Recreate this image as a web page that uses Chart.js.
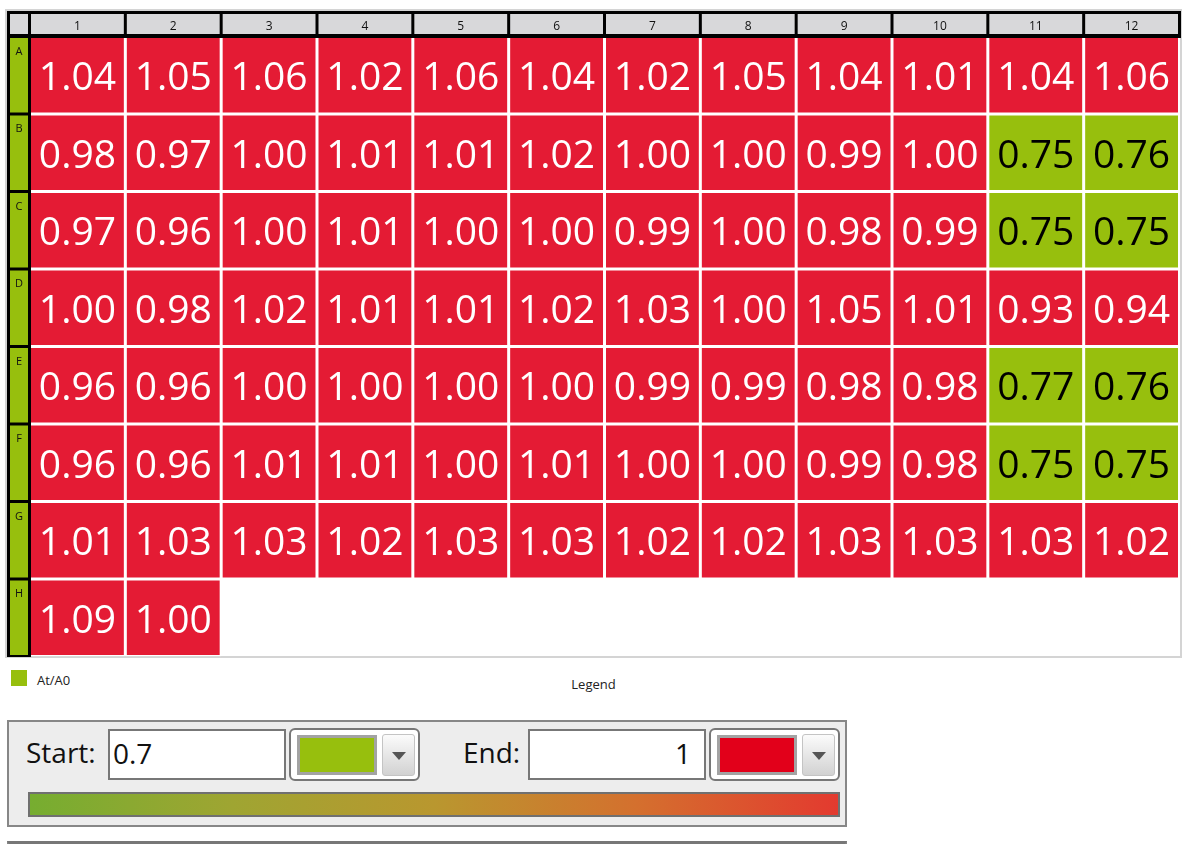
<!DOCTYPE html>
<html>
<head>
<meta charset="utf-8">
<script src="https://cdn.jsdelivr.net/npm/chart.js@4.4.1/dist/chart.umd.min.js"></script>
<style>
  html, body { margin: 0; padding: 0; background: #fff; }
  body { width: 1200px; height: 844px; overflow: hidden; position: relative; font-family: "Open Sans", sans-serif; }
  .abs { position: absolute; box-sizing: border-box; }
  #frame { left: 5px; top: 9px; width: 1177px; height: 649px; border: 2px solid #d4d4d4; }
  #c { position: absolute; left: 0; top: 0; }
  .small { font-size: 13px; line-height: 13px; color: #222; white-space: nowrap; }
  #panel { left: 7px; top: 720px; width: 840px; height: 107px; background: #ededed; border: 2px solid #878787; }
  .lbl { font-size: 28px; line-height: 28px; color: #111; white-space: nowrap; }
  .inp { background: #fff; border: 2px solid #777; height: 51px; top: 729px; }
  .txt { font-size: 28px; line-height: 28px; color: #111; top: 8px; }
  .dd { background: #fff; border: 2px solid #777; border-radius: 6px; top: 728px; height: 53px; width: 131px; }
  .sw { border: 3px solid #a3a3a3; top: 5px; left: 6px; width: 80px; height: 40px; }
  .btn { top: 4px; left: 91px; width: 33px; height: 42px; border: 1px solid #c4c4c4; border-radius: 3px; background: linear-gradient(#fbfbfb, #d2d2d2); }
  .tri { left: 9px; top: 17px; width: 0; height: 0; border-left: 7px solid transparent; border-right: 7px solid transparent; border-top: 8px solid #555; }
  #grad { left: 28px; top: 792px; width: 812px; height: 25px; border: 2px solid #707070;
          background: linear-gradient(to right, #76ad30, #9fa532 25%, #b9972f 50%, #d4702e 75%, #e33a2f); }
  #bottomline { left: 7px; top: 841px; width: 840px; height: 10px; border-top: 3px solid #777; border-left: 2px solid #878787; border-right: 2px solid #878787; background: #ededed; }
</style>
</head>
<body>
<div id="frame" class="abs"></div>
<canvas id="c" width="1200" height="660"></canvas>

<div class="abs" id="legSwatch" style="left:11px;top:670px;width:16px;height:16px;"></div>
<div class="abs small" id="legText" style="left:37px;top:673.5px;"></div>
<div class="abs small" id="legTitle" style="left:6px;top:677.5px;width:1175px;text-align:center;"></div>

<div id="panel" class="abs"></div>
<div class="abs lbl" style="left:26px;top:738px;">Start:</div>
<div class="abs inp" style="left:108px;width:178px;"><div class="abs txt" id="startTxt" style="left:3px;"></div></div>
<div class="abs dd" style="left:289px;"><div class="abs sw" id="startSw"></div><div class="abs btn"><div class="abs tri"></div></div></div>
<div class="abs lbl" style="left:463px;top:738px;">End:</div>
<div class="abs inp" style="left:528px;width:178px;"><div class="abs txt" id="endTxt" style="right:13px;"></div></div>
<div class="abs dd" style="left:709px;"><div class="abs sw" id="endSw"></div><div class="abs btn"><div class="abs tri"></div></div></div>
<div id="grad" class="abs"></div>
<div id="bottomline" class="abs"></div>

<script>
// ---- data ----
const columns = ['1','2','3','4','5','6','7','8','9','10','11','12'];
const rows = ['A','B','C','D','E','F','G','H'];
const rowA = [1.04,1.05,1.06,1.02,1.06,1.04,1.02,1.05,1.04,1.01,1.04,1.06];
const rowB = [0.98,0.97,1.00,1.01,1.01,1.02,1.00,1.00,0.99,1.00,0.75,0.76];
const rowC = [0.97,0.96,1.00,1.01,1.00,1.00,0.99,1.00,0.98,0.99,0.75,0.75];
const rowD = [1.00,0.98,1.02,1.01,1.01,1.02,1.03,1.00,1.05,1.01,0.93,0.94];
const rowE = [0.96,0.96,1.00,1.00,1.00,1.00,0.99,0.99,0.98,0.98,0.77,0.76];
const rowF = [0.96,0.96,1.01,1.01,1.00,1.01,1.00,1.00,0.99,0.98,0.75,0.75];
const rowG = [1.01,1.03,1.03,1.02,1.03,1.03,1.02,1.02,1.03,1.03,1.03,1.02];
const rowH = [1.09,1.00];
const seriesName = 'At/A0';
const legendTitle = 'Legend';
const startValue = '0.7';
const endValue = '1';
const threshold = 0.85;

// ---- styles ----
const RED = '#E41B34';
const GREEN = '#97BF0D';
const HEADER_GRAY = '#D8D8DA';
const SWATCH_RED = '#E2001A';

document.getElementById('legSwatch').style.background = GREEN;
document.getElementById('legText').textContent = seriesName;
document.getElementById('legTitle').textContent = legendTitle;
document.getElementById('startTxt').textContent = startValue;
document.getElementById('endTxt').textContent = endValue;
document.getElementById('startSw').style.background = GREEN;
document.getElementById('endSw').style.background = SWATCH_RED;

const rowValues = [rowA, rowB, rowC, rowD, rowE, rowF, rowG, rowH];
const isLow = v => v < threshold;

const datasets = rowValues.map((vals, r) => ({
  label: rows[r],
  data: vals.map(() => [r - 0.5, r + 0.5]),
  values: vals,
  backgroundColor: vals.map(v => isLow(v) ? GREEN : RED),
  borderColor: '#ffffff',
  borderWidth: 1.5,
  borderSkipped: false,
  inflateAmount: 0,
  barPercentage: 1,
  categoryPercentage: 1,
  grouped: false
}));

const platePlugin = {
  id: 'plate',
  afterDatasetsDraw(chart) {
    const { ctx, chartArea: a, scales: { x, y } } = chart;
    ctx.save();
    // cell values
    ctx.textAlign = 'center';
    ctx.textBaseline = 'alphabetic';
    ctx.font = '39px "Open Sans"';
    chart.data.datasets.forEach((ds, r) => {
      chart.getDatasetMeta(r).data.forEach((bar, i) => {
        const v = ds.values[i];
        ctx.fillStyle = isLow(v) ? '#000' : '#fff';
        const cy = (bar.y + bar.base) / 2;
        ctx.fillText(v.toFixed(2), bar.x, cy + 15);
      });
    });
    // header row and row-label column
    const step = x.getPixelForTick(1) - x.getPixelForTick(0);
    const rowStep = Math.abs(y.getPixelForValue(1) - y.getPixelForValue(0));
    const top = 11, left = 7;
    ctx.fillStyle = '#000';
    ctx.fillRect(left, top, a.right + 1.5 - left, a.top + 1.5 - top);
    ctx.fillRect(left, top, a.left + 1.5 - left, a.bottom + 0.5 - top);
    ctx.fillStyle = HEADER_GRAY;
    ctx.fillRect(left + 3, top + 3, a.left - 1.5 - (left + 3), a.top - 2.5 - (top + 3));
    ctx.font = '12px "Open Sans"';
    columns.forEach((c, i) => {
      const cx = x.getPixelForTick(i);
      ctx.fillStyle = HEADER_GRAY;
      ctx.fillRect(cx - step / 2 + 1.5, top + 3, step - 3, a.top - 2.5 - (top + 3));
      ctx.fillStyle = '#111';
      ctx.fillText(c, cx, 30);
    });
    ctx.font = '11px "Open Sans"';
    rows.forEach((name, r) => {
      const cy = y.getPixelForValue(r);
      const ct = cy - rowStep / 2 + 1.5;
      ctx.fillStyle = GREEN;
      ctx.fillRect(left + 3, ct, a.left - 1.5 - (left + 3), rowStep - 3);
      ctx.fillStyle = '#111';
      ctx.fillText(name, (left + 3 + a.left - 1.5) / 2, ct + 16.5);
    });
    ctx.restore();
  }
};

new Chart(document.getElementById('c'), {
  type: 'bar',
  data: { labels: columns, datasets },
  options: {
    responsive: false,
    animation: false,
    events: [],
    layout: { padding: { left: 29.5, right: 20.5, top: 36.5, bottom: 3.5 } },
    scales: {
      x: { type: 'category', display: false, offset: true, grid: { display: false } },
      y: { type: 'linear', display: false, min: -0.5, max: rows.length - 0.5, reverse: true }
    },
    plugins: { legend: { display: false }, tooltip: { enabled: false } }
  },
  plugins: [platePlugin]
});
</script>
</body>
</html>
